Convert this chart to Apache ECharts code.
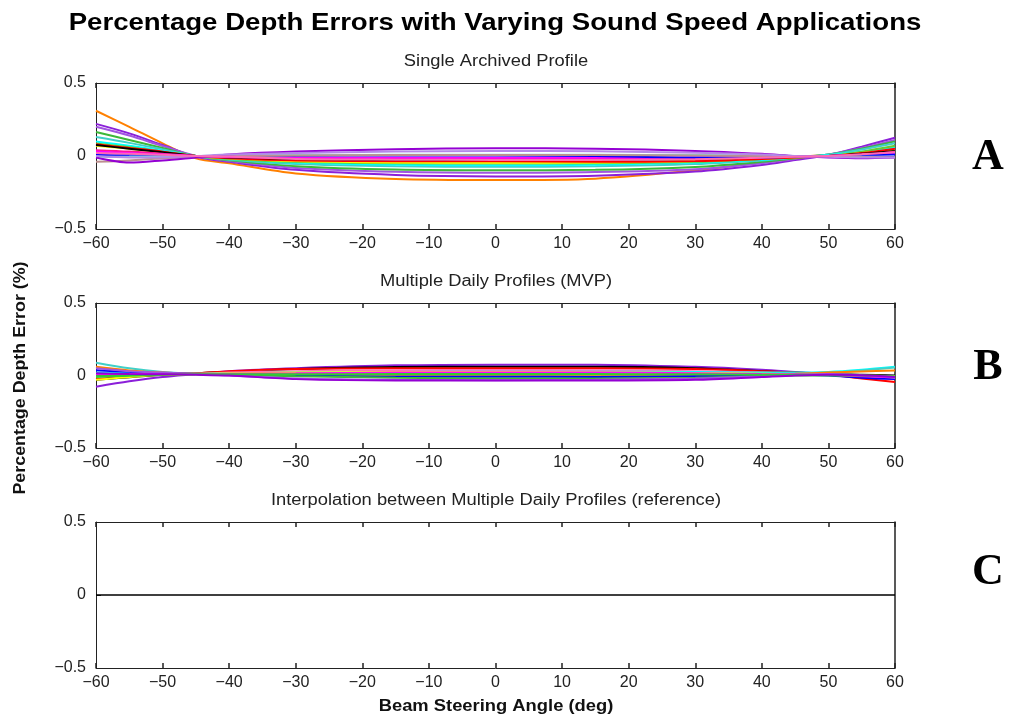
<!DOCTYPE html>
<html><head><meta charset="utf-8">
<script src="https://cdn.jsdelivr.net/npm/echarts@6/dist/echarts.min.js"></script>
<style>html,body{margin:0;padding:0;background:#fff}#c{width:1009px;height:719px}</style>
</head><body><div id="c"></div>
<script>
// Beam steering angles (deg)
const angles = [-60,-55,-50,-45,-40,-30,-15,0,15,30,40,45,50,55,60];
const xTicks = [-60,-50,-40,-30,-20,-10,0,10,20,30,40,50,60];
const yTicks = [-0.5,0,0.5];

// Panel A: Single Archived Profile
const aNames  = ['A1','A2','A3','A4','A5','A6','A7','A8','A9','A10','A11','A12','A13','A14','A15','A16','A17','A18'];
const aColors = ['#FF8000','#8B1FD9','#A155E0','#3CB838','#40D0C8','#00FFFF','#66CC33','#FFFF00','#FF0000','#000000','#FF1493','#FF00FF','#0000FF','#7FD8D8','#BC8F8F','#9400D3','#B388E8','#FF69B4'];
const a1  = [0.31,0.20,0.087,-0.016,-0.05,-0.12,-0.158,-0.165,-0.155,-0.098,-0.043,-0.008,0.007,0.022,0.04];
const a2  = [0.22,0.155,0.075,-0.005,-0.04,-0.095,-0.13,-0.14,-0.135,-0.107,-0.062,-0.027,0.007,0.064,0.125];
const a3  = [0.20,0.14,0.068,0.0,-0.035,-0.082,-0.108,-0.115,-0.11,-0.09,-0.05,-0.02,0.01,0.055,0.11];
const a4  = [0.165,0.11,0.055,0.0,-0.03,-0.07,-0.093,-0.098,-0.095,-0.075,-0.04,-0.015,0.01,0.05,0.10];
const a5  = [0.13,0.09,0.045,0.0,-0.025,-0.055,-0.07,-0.074,-0.07,-0.055,-0.03,-0.01,0.01,0.045,0.088];
const a6  = [0.10,0.07,0.035,0.0,-0.02,-0.045,-0.06,-0.064,-0.06,-0.045,-0.025,-0.01,0.005,0.03,0.06];
const a7  = [0.085,0.06,0.03,0.0,-0.02,-0.04,-0.05,-0.052,-0.05,-0.04,-0.02,-0.01,0.0,0.03,0.07];
const a8  = [0.07,0.05,0.025,0.0,-0.015,-0.035,-0.045,-0.047,-0.045,-0.035,-0.018,-0.008,0.0,0.02,0.045];
const a9  = [0.08,0.055,0.03,0.0,-0.015,-0.03,-0.036,-0.036,-0.04,-0.035,-0.02,-0.01,0.0,0.02,0.05];
const a10 = [0.075,0.05,0.025,0.0,-0.01,-0.02,-0.025,-0.025,-0.025,-0.02,-0.01,-0.005,0.0,0.015,0.035];
const a11 = [0.04,0.03,0.015,0.0,-0.008,-0.015,-0.02,-0.02,-0.02,-0.015,-0.01,-0.005,0.0,0.01,0.03];
const a12 = [0.03,0.02,0.01,0.0,-0.005,-0.01,-0.012,-0.012,-0.012,-0.01,-0.006,-0.003,0.0,0.008,0.02];
const a13 = [0.007,0.005,0.002,0.0,0.0,0.002,0.003,0.003,0.0,-0.01,-0.01,-0.005,0.0,0.005,0.01];
const a14 = [-0.005,-0.004,-0.002,0.0,0.003,0.006,0.008,0.008,0.008,0.006,0.003,0.0,-0.002,-0.004,-0.005];
const a15 = [-0.04,-0.03,-0.015,-0.005,0.0,0.004,0.006,0.006,0.006,0.004,0.0,-0.002,-0.004,-0.006,-0.008];
const a16 = [-0.01,-0.045,-0.03,-0.01,0.01,0.03,0.047,0.053,0.05,0.035,0.015,0.0,-0.01,-0.015,-0.01];
const a17 = [0.0,-0.01,-0.008,0.0,0.01,0.02,0.03,0.034,0.032,0.022,0.01,0.0,-0.005,-0.01,-0.01];
const a18 = [0.02,0.015,0.008,0.0,-0.004,-0.02,-0.025,-0.027,-0.028,-0.022,-0.012,-0.005,0.0,0.012,0.025];
const aValues = [a1,a2,a3,a4,a5,a6,a7,a8,a9,a10,a11,a12,a13,a14,a15,a16,a17,a18];

// Panel B: Multiple Daily Profiles (MVP)
const bNames  = ['B1','B2','B3','B4','B5','B6','B7','B8','B9','B10','B11','B12','B13','B14'];
const bColors = ['#8B1FD9','#000000','#FF0000','#FF69B4','#00FFFF','#40D0C8','#FF8000','#0000FF','#3CB838','#FFFF00','#A155E0','#FF00FF','#32CD32','#9400D3'];
const b1  = [-0.077,-0.04,-0.01,0.01,0.03,0.05,0.07,0.075,0.075,0.06,0.04,0.025,0.01,-0.005,-0.02];
const b2  = [-0.03,-0.012,0.005,0.015,0.025,0.045,0.058,0.06,0.06,0.05,0.03,0.02,0.01,0.005,0.0];
const b3  = [-0.025,-0.005,0.008,0.015,0.03,0.045,0.05,0.05,0.05,0.045,0.03,0.02,0.005,-0.02,-0.045];
const b4  = [0.0,0.005,0.01,0.012,0.02,0.03,0.037,0.038,0.037,0.03,0.02,0.012,0.005,-0.008,-0.02];
const b5  = [0.02,0.015,0.012,0.012,0.015,0.02,0.025,0.026,0.026,0.025,0.02,0.02,0.025,0.04,0.06];
const b6  = [0.088,0.05,0.025,0.012,0.008,0.005,0.003,0.003,0.003,0.005,0.01,0.015,0.02,0.035,0.055];
const b7  = [0.06,0.035,0.02,0.012,0.01,0.008,0.005,0.005,0.005,0.005,0.008,0.012,0.02,0.028,0.035];
const b8  = [0.037,0.025,0.015,0.01,0.005,0.0,-0.008,-0.008,-0.01,-0.005,0.0,0.005,0.0,-0.015,-0.025];
const b9  = [0.003,0.005,0.008,0.008,0.005,-0.005,-0.015,-0.02,-0.02,-0.015,-0.005,0.0,0.0,-0.003,-0.003];
const b10 = [-0.03,-0.01,0.005,0.01,0.015,0.02,0.025,0.025,0.022,0.018,0.012,0.008,0.005,0.0,-0.005];
const b11 = [0.05,0.03,0.02,0.01,0.0,-0.02,-0.03,-0.032,-0.03,-0.02,-0.005,0.005,0.01,0.0,-0.017];
const b12 = [0.01,0.01,0.01,0.01,0.012,0.015,0.02,0.02,0.02,0.015,0.01,0.008,0.005,-0.005,-0.01];
const b13 = [-0.01,-0.002,0.005,0.008,0.008,0.008,0.01,0.01,0.01,0.008,0.006,0.005,0.004,0.0,-0.005];
const b14 = [0.015,0.01,0.008,0.005,0.0,-0.025,-0.035,-0.035,-0.035,-0.03,-0.01,0.0,0.005,0.002,-0.01];
const bValues = [b1,b2,b3,b4,b5,b6,b7,b8,b9,b10,b11,b12,b13,b14];

// Panel C: Interpolation (reference)
const cValues = [0,0,0,0,0,0,0,0,0,0,0,0,0,0,0];

const titles = ['Single Archived Profile','Multiple Daily Profiles (MVP)','Interpolation between Multiple Daily Profiles (reference)'];
const panelLetters = ['A','B','C'];

const SANS = '"Liberation Sans", Arial, Helvetica, sans-serif';
const SERIF = '"Liberation Serif", "Times New Roman", serif';
const minus = s => String(s).replace('-', '\u2212');
const grids = [
  {left:96, right:114, top:83, height:146},
  {left:96, right:114, top:303, height:145},
  {left:96, right:114, top:522, height:146}
];
const lineCol = '#222';
const xAxes = [], yAxes = [];
grids.forEach((g,i)=>{
  xAxes.push({gridIndex:i, type:'value', min:-60, max:60, interval:10, position:'bottom',
    axisLine:{onZero:false, lineStyle:{color:lineCol,width:1}},
    axisTick:{inside:true, length:5, lineStyle:{color:lineCol,width:1.5}},
    axisLabel:{color:'#222', fontSize:16, fontFamily:SANS, margin:7, formatter:v=>minus(v)},
    splitLine:{show:false}});
  xAxes.push({gridIndex:i, type:'value', min:-60, max:60, interval:10, position:'top',
    axisLine:{onZero:false, lineStyle:{color:lineCol,width:1}},
    axisTick:{inside:true, length:5, lineStyle:{color:lineCol,width:1.5}},
    axisLabel:{show:false}, splitLine:{show:false}});
  yAxes.push({gridIndex:i, type:'value', min:-0.5, max:0.5, interval:0.5, position:'left',
    axisLine:{onZero:false, lineStyle:{color:lineCol,width:1}},
    axisTick:{inside:true, length:5, lineStyle:{color:lineCol}},
    axisLabel:{color:'#222', fontSize:16, fontFamily:SANS, margin:10, formatter:v=>v===0?'0':minus(v)},
    splitLine:{show:false}});
  yAxes.push({gridIndex:i, type:'value', min:-0.5, max:0.5, interval:0.5, position:'right',
    axisLine:{onZero:false, lineStyle:{color:lineCol,width:1.5}},
    axisTick:{show:false}, axisLabel:{show:false}, splitLine:{show:false}});
});

const series = [];
function addPanel(values, colors, names, gi, w){
  values.forEach((vals,k)=>{
    series.push({type:'line', name:names[k], xAxisIndex:gi*2, yAxisIndex:gi*2,
      data: angles.map((a,j)=>[a, vals[j]]), showSymbol:false, smooth:0.3,
      lineStyle:{color:colors[k], width:w}, itemStyle:{color:colors[k]}, silent:true});
  });
}
addPanel(aValues, aColors, aNames, 0, 2);
addPanel(bValues, bColors, bNames, 1, 2);
addPanel([cValues], ['#000000'], ['C1'], 2, 1.3);

const graphics = [];
titles.forEach((t,i)=>{
  graphics.push({type:'text', x:496, y:[62,282,501][i], scaleX:1.145,
    style:{text:t, fontSize:16, fontFamily:SANS, fill:'#222', align:'center', verticalAlign:'middle'}});
});
const letterY = [158,368,573];
panelLetters.forEach((l,i)=>{
  graphics.push({type:'text', x:988, y:letterY[i],
    style:{text:l, fontSize:44, fontWeight:'bold', fontFamily:SERIF, fill:'#000', align:'center', verticalAlign:'middle'}});
});
graphics.push({type:'text', x:20, y:378, rotation:Math.PI/2, scaleX:1.05,
  style:{text:'Percentage Depth Error (%)', fontSize:17, fontWeight:'bold', fontFamily:SANS, fill:'#111', align:'center', verticalAlign:'middle'}});
graphics.push({type:'text', x:496, y:706, scaleX:1.08,
  style:{text:'Beam Steering Angle (deg)', fontSize:17, fontWeight:'bold', fontFamily:SANS, fill:'#111', align:'center', verticalAlign:'middle'}});
graphics.push({type:'text', x:495, y:23, scaleX:1.15,
  style:{text:'Percentage Depth Errors with Varying Sound Speed Applications', fontSize:24, fontWeight:'bold', fontFamily:SANS, fill:'#000', align:'center', verticalAlign:'middle'}});

const chart = echarts.init(document.getElementById('c'));
chart.setOption({
  animation:false, backgroundColor:'#fff',
  grid:grids, xAxis:xAxes, yAxis:yAxes, series:series, graphic:graphics
});
</script></body></html>
